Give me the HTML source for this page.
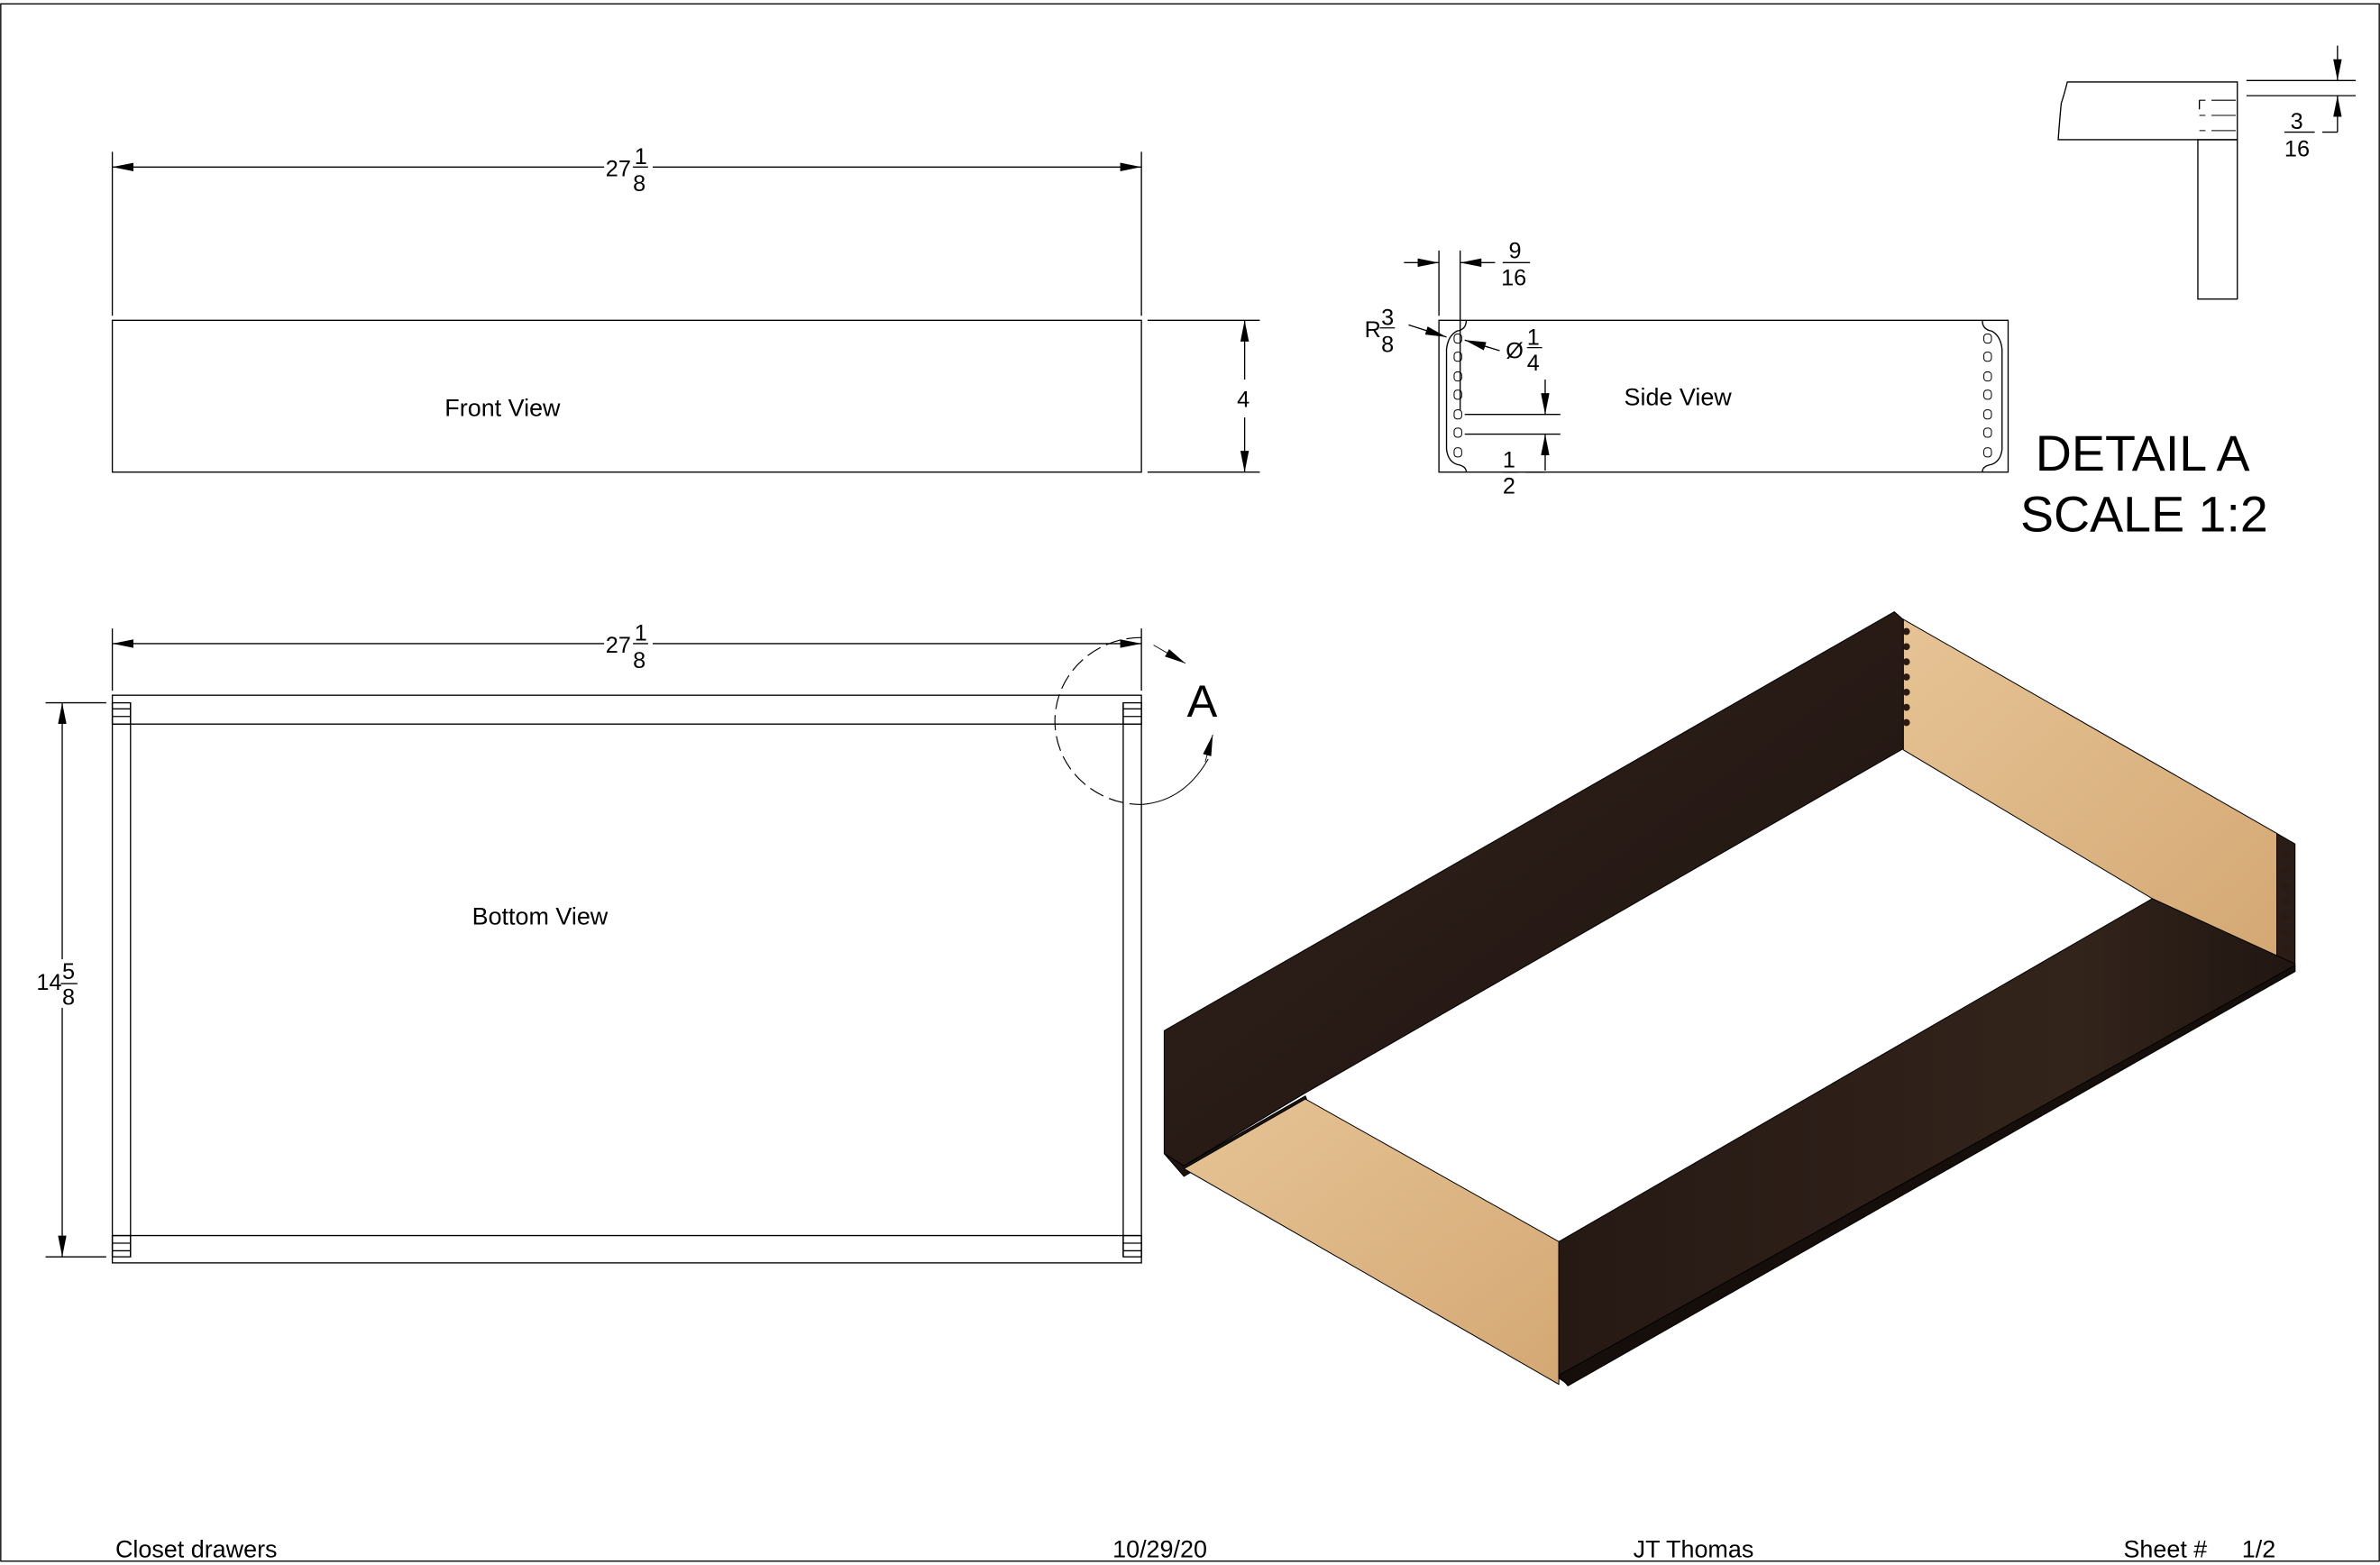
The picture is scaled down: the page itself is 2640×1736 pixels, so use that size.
<!DOCTYPE html>
<html><head><meta charset="utf-8"><style>
html,body{margin:0;padding:0;background:#fff}
svg{display:block}
text{font-family:"Liberation Sans",sans-serif;fill:#000}
</style></head><body>
<svg width="2640" height="1736" viewBox="0 0 1568 1031" xmlns="http://www.w3.org/2000/svg">
<defs>
<marker id="a" viewBox="0 0 10 4" refX="10" refY="2" markerWidth="14" markerHeight="5.6" orient="auto-start-reverse" markerUnits="userSpaceOnUse"><path d="M0,0 L10,2 L0,4z" fill="#000"/></marker>
<linearGradient id="dk" x1="0" y1="0" x2="1" y2="1"><stop offset="0" stop-color="#33241d"/><stop offset="0.5" stop-color="#281b16"/><stop offset="1" stop-color="#1c1310"/></linearGradient>
<linearGradient id="dk2" x1="0" y1="0" x2="1" y2="0"><stop offset="0" stop-color="#261914"/><stop offset="0.7" stop-color="#33241b"/><stop offset="1" stop-color="#211612"/></linearGradient>
<linearGradient id="lt" x1="0" y1="0" x2="1" y2="1"><stop offset="0" stop-color="#e6c395"/><stop offset="1" stop-color="#d4a874"/></linearGradient>
</defs>
<g fill="none" stroke="#000" stroke-width="0.8">
<rect x="0.5" y="2.5" width="1567" height="1026"/>
<rect x="74" y="211" width="678" height="100"/>
<line x1="74" y1="100" x2="74" y2="208"/><line x1="752" y1="100" x2="752" y2="208"/>
<line x1="74" y1="110" x2="398" y2="110" marker-start="url(#a)"/><line x1="430" y1="110" x2="752" y2="110" marker-end="url(#a)"/>
<line x1="756" y1="211" x2="830" y2="211"/><line x1="756" y1="311" x2="830" y2="311"/>
<line x1="820" y1="211" x2="820" y2="250" marker-start="url(#a)"/><line x1="820" y1="275" x2="820" y2="311" marker-end="url(#a)"/>
<rect x="74" y="458" width="678" height="374"/>
<line x1="74" y1="477" x2="752" y2="477"/><line x1="74" y1="814" x2="752" y2="814"/>
<line x1="86" y1="463" x2="86" y2="828"/><line x1="740" y1="463" x2="740" y2="828"/>
<rect x="74" y="463" width="12" height="14"/><rect x="740" y="463" width="12" height="14"/>
<rect x="74" y="814" width="12" height="14"/><rect x="740" y="814" width="12" height="14"/>
<line x1="74" y1="467" x2="86" y2="467"/><line x1="74" y1="472" x2="86" y2="472"/><line x1="740" y1="467" x2="752" y2="467"/><line x1="740" y1="472" x2="752" y2="472"/>
<line x1="74" y1="819" x2="86" y2="819"/><line x1="74" y1="824" x2="86" y2="824"/><line x1="740" y1="819" x2="752" y2="819"/><line x1="740" y1="824" x2="752" y2="824"/>
<line x1="74" y1="414" x2="74" y2="455"/><line x1="752" y1="414" x2="752" y2="455"/>
<line x1="74" y1="424" x2="398" y2="424" marker-start="url(#a)"/><line x1="430" y1="424" x2="752" y2="424" marker-end="url(#a)"/>
<line x1="30" y1="463" x2="70" y2="463"/><line x1="30" y1="828" x2="70" y2="828"/>
<line x1="41" y1="463" x2="41" y2="632" marker-start="url(#a)"/><line x1="41" y1="664" x2="41" y2="828" marker-end="url(#a)"/>
<path d="M752,420 A57,55 0 0 0 695,475 A57,55 0 0 0 752,530" stroke-dasharray="10,4" stroke-width="0.7"/>
<path d="M752,530 Q780,528 796,500" stroke-width="0.6"/>
<line x1="760" y1="425" x2="781" y2="437" marker-end="url(#a)" stroke-width="0.5"/>
<line x1="794" y1="502" x2="799" y2="484" marker-end="url(#a)" stroke-width="0.5"/>
<rect x="948" y="211" width="375" height="100"/>
<path d="M966,211 q0,6 -6,7 q-6,3 -7,12 v66 q1,8 7,10 q6,1 6,5"/>
<path d="M1306,211 q0,6 6,7 q6,3 7,12 v66 q-1,8 -7,10 q-6,1 -6,5"/>
<g stroke-width="0.6">
<rect x="958" y="220" width="5" height="6" rx="2"/><rect x="958" y="232" width="5" height="6" rx="2"/><rect x="958" y="245" width="5" height="6" rx="2"/><rect x="958" y="257" width="5" height="6" rx="2"/><rect x="958" y="270" width="5" height="6" rx="2"/><rect x="958" y="282" width="5" height="6" rx="2"/><rect x="958" y="295" width="5" height="6" rx="2"/>
<rect x="1307" y="220" width="5" height="6" rx="2"/><rect x="1307" y="232" width="5" height="6" rx="2"/><rect x="1307" y="245" width="5" height="6" rx="2"/><rect x="1307" y="257" width="5" height="6" rx="2"/><rect x="1307" y="270" width="5" height="6" rx="2"/><rect x="1307" y="282" width="5" height="6" rx="2"/><rect x="1307" y="295" width="5" height="6" rx="2"/>
</g>
<line x1="948" y1="165" x2="948" y2="208"/><line x1="962" y1="165" x2="962" y2="270"/>
<line x1="925" y1="173" x2="948" y2="173" marker-end="url(#a)"/><line x1="985" y1="173" x2="962" y2="173" marker-end="url(#a)"/>
<line x1="928" y1="214" x2="953" y2="222" marker-end="url(#a)"/>
<line x1="988" y1="231" x2="965" y2="224" marker-end="url(#a)"/>
<line x1="965" y1="273" x2="1028" y2="273"/><line x1="965" y1="286" x2="1028" y2="286"/>
<line x1="1018" y1="250" x2="1018" y2="273" marker-end="url(#a)"/><line x1="1018" y1="310" x2="1018" y2="286" marker-end="url(#a)"/>
<line x1="1005" y1="311" x2="1018" y2="311"/>
<path d="M1474,54 H1362 q-2,8 -4,14 q-1,10 -2,24 H1474 Z"/>
<rect x="1448" y="92" width="26" height="105"/>
<path d="M1449,66 h4 m4,0 h16 M1449,76 h4 m4,0 h16 M1449,86 h4 m4,0 h16" stroke-width="0.6"/>
<line x1="1449" y1="66" x2="1449" y2="72"/>
<line x1="1480" y1="53" x2="1552" y2="53"/><line x1="1480" y1="63" x2="1552" y2="63"/>
<line x1="1540" y1="30" x2="1540" y2="53" marker-end="url(#a)"/><line x1="1540" y1="87" x2="1540" y2="63" marker-end="url(#a)"/>
<line x1="1530" y1="87" x2="1540" y2="87"/>
</g>
<g stroke="#000" stroke-width="0.8">
<line x1="417" y1="110" x2="427" y2="110"/><line x1="417" y1="424" x2="427" y2="424"/>
<line x1="40" y1="648" x2="51" y2="648"/><line x1="990" y1="173" x2="1008" y2="173"/>
<line x1="909" y1="216" x2="919" y2="216"/><line x1="1006" y1="229" x2="1016" y2="229"/>
<line x1="990" y1="311" x2="1000" y2="311"/><line x1="1505" y1="87" x2="1525" y2="87"/>
</g>
<g font-size="15">
<text x="399" y="116">27</text><text x="418" y="108">1</text><text x="417" y="126">8</text>
<text x="399" y="430">27</text><text x="418" y="422">1</text><text x="417" y="440">8</text>
<text x="24" y="652">14</text><text x="41" y="645">5</text><text x="41" y="662">8</text>
<text x="815" y="268">4</text>
<text x="994" y="170">9</text><text x="989" y="188">16</text>
<text x="899" y="222">R</text><text x="910" y="214">3</text><text x="910" y="232">8</text>
<text x="992" y="236">Ø</text><text x="1006" y="227">1</text><text x="1006" y="244">4</text>
<text x="990" y="308">1</text><text x="990" y="325">2</text>
<text x="1509" y="85">3</text><text x="1505" y="103">16</text>
<text x="293" y="274" font-size="16">Front View</text>
<text x="311" y="609" font-size="16">Bottom View</text>
<text x="1070" y="267" font-size="16">Side View</text>
<text x="76" y="1026" font-size="16">Closet drawers</text>
<text x="733" y="1026" font-size="16">10/29/20</text>
<text x="1076" y="1026" font-size="16">JT Thomas</text>
<text x="1399" y="1026" font-size="16">Sheet #</text><text x="1477" y="1026" font-size="16">1/2</text>
</g>
<text x="782" y="472" font-size="30">A</text>
<text x="1341" y="310" font-size="33">DETAIL A</text>
<text x="1331" y="350" font-size="33">SCALE 1:2</text>
<g stroke="#000" stroke-width="0.6">
<polygon points="767,679 1248,403 1256,410 1256,492 860,720 780,768 767,760" fill="url(#dk)"/>
<polygon points="767,760 780,768 860,722 862,727 780,775" fill="#1d130f"/>
<polygon points="1254,408 1500,549 1500,632 1418,592 1254,494" fill="url(#lt)"/>
<polygon points="1500,549 1512,556 1512,635 1500,632" fill="#2a1c16"/>
<polygon points="780,770 860,724 1027,818 1027,912" fill="url(#lt)"/>
<polygon points="1027,818 1418,592 1512,635 1512,640 1033,912 1027,908" fill="url(#dk2)"/>
<polygon points="1027,906 1512,636 1512,640 1033,913" fill="#160e0b"/>
</g>
<g fill="#2a1a12">
<circle cx="1256" cy="416" r="2.3"/><circle cx="1256" cy="426" r="2.3"/><circle cx="1256" cy="436" r="2.3"/><circle cx="1256" cy="446" r="2.3"/><circle cx="1256" cy="456" r="2.3"/><circle cx="1256" cy="466" r="2.3"/><circle cx="1256" cy="476" r="2.3"/>
<circle cx="1506" cy="564" r="2.3"/><circle cx="1506" cy="574" r="2.3"/><circle cx="1506" cy="584" r="2.3"/><circle cx="1506" cy="594" r="2.3"/><circle cx="1506" cy="604" r="2.3"/><circle cx="1506" cy="614" r="2.3"/><circle cx="1506" cy="624" r="2.3"/>
</g>
</svg>
</body></html>
